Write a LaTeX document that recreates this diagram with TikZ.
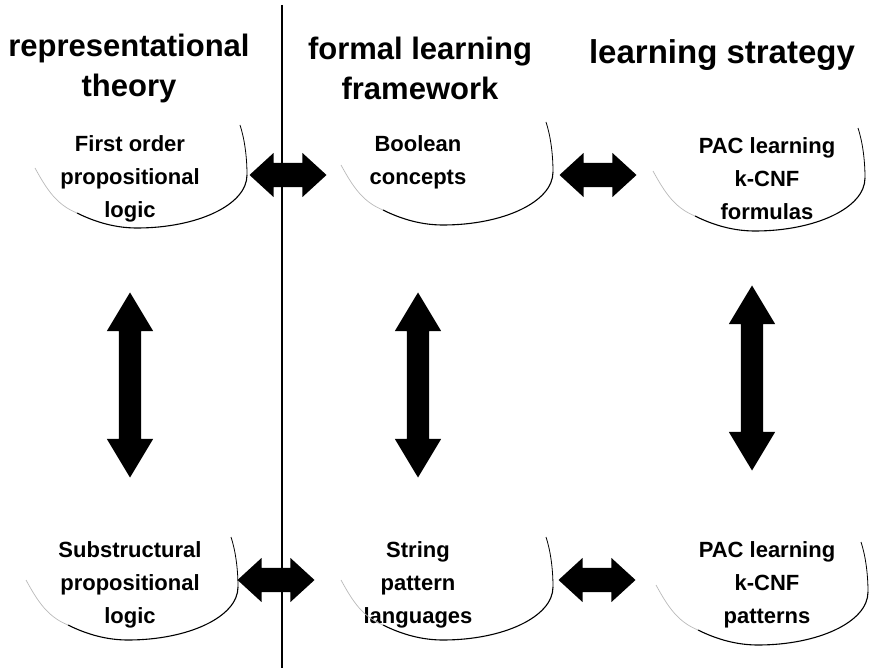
\documentclass[tikz,border=0pt]{standalone}
\usepackage{fontspec}
\setmainfont{Liberation Sans}
\usetikzlibrary{positioning,calc,shapes.arrows}

\tikzset{
  heading/.style={font=\bfseries\fontsize{31}{40}\selectfont, align=center, inner sep=0pt},
  concept/.style={font=\bfseries\fontsize{22}{33}\selectfont, align=center, inner sep=0pt},
  harrow/.style={double arrow, fill=black, minimum height=77pt, inner xsep=0pt, inner ysep=12pt,
    double arrow head extend=10pt, double arrow tip angle=85},
  varrow/.style={double arrow, fill=black, minimum height=185pt, inner xsep=0pt, inner ysep=11pt,
    double arrow head extend=12pt, double arrow tip angle=62, rotate=90},
}
% open oval under a concept, #1 = its right-most point
\newcommand{\lobe}[1]{%
  \draw[gray!55, line width=0.7pt] ($(#1)+(-212,-7)$) .. controls ($(#1)+(-200,15)$) and ($(#1)+(-190,30)$) .. ($(#1)+(-170,38)$);
  \draw[line width=1.1pt] ($(#1)+(-170,38)$) .. controls ($(#1)+(-150,48)$) and ($(#1)+(-130,53)$) .. ($(#1)+(-110,53)$)
    .. controls ($(#1)+(-50,53)$) and ($(#1)+(0,30)$) .. (#1);
  \draw[line width=0.8pt] (#1) .. controls ($(#1)+(0,-20)$) and ($(#1)+(-3,-38)$) .. ($(#1)+(-7,-50)$);
}

\begin{document}
\begin{tikzpicture}[x=1pt,y=-1pt]
  \useasboundingbox (0,0) rectangle (871,671);

  \node[heading] (h1) at (129,68) {representational\\theory};
  \node[heading] (h2) at (420,68) {formal learning\\framework};
  \node[heading, font=\bfseries\fontsize{33}{40}\selectfont] (h3) at (722,55) {learning strategy};

  \node[concept] (fol)  at (130,179) {First order\\propositional\\logic};
  \node[concept] (bool) at (418,162) {Boolean\\concepts};
  \node[concept] (pacf) at (767,179) {PAC learning\\k-CNF\\formulas};
  \node[concept] (sub)  at (130,585) {Substructural\\propositional\\logic};
  \node[concept] (str)  at (418,585) {String\\pattern\\languages};
  \node[concept] (pacp) at (767,585) {PAC learning\\k-CNF\\patterns};

  \coordinate (folR)  at (247,175);
  \coordinate (boolR) at (553,172);
  \coordinate (pacfR) at (865,178);
  \coordinate (subR)  at (238,587);
  \coordinate (strR)  at (553,587);
  \coordinate (pacpR) at (868,592);
  \foreach \r in {folR,boolR,pacfR,subR,strR,pacpR}
    \lobe{\r};

  % the links
  \node[harrow] (fb) at (288,175) {};
  \node[harrow] (bp) at (598,175) {};
  \node[harrow] (ss) at (276,580) {};
  \node[harrow] (sp) at (597,580) {};
  \node[varrow] (fs) at (130,385) {};
  \node[varrow] (bs) at (418,385) {};
  \node[varrow] (pp) at (752,378) {};

  \coordinate (top) at (282,5);
  \coordinate (bot) at (282,668);
  \draw[line width=1.4pt] (top) -- (bot);
\end{tikzpicture}
\end{document}
